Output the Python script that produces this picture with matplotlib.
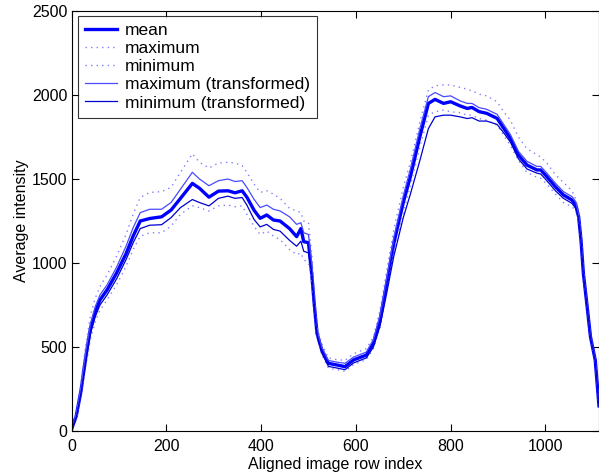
import matplotlib
matplotlib.use("Agg")
import matplotlib.pyplot as plt

plt.rcParams["font.family"] = ["Liberation Sans", "DejaVu Sans"]

# row index grid shared by all curves
rows = [0, 10, 20, 30, 40, 50, 60, 75, 95, 115, 130, 145, 165, 190, 210, 230,
        255, 270, 290, 310, 330, 345, 360, 370, 385, 398, 412, 426, 440, 460,
        475, 484, 490, 500, 507, 512, 518, 528, 542, 560, 577, 595, 622, 637,
        651, 665, 680, 700, 715, 735, 753, 767, 785, 800, 820, 835, 845, 860,
        876, 898, 912, 926, 943, 961, 982, 990, 1003, 1021, 1038, 1056, 1064,
        1070, 1075, 1080, 1088, 1095, 1105, 1113]

mean_vals = [10, 90, 240, 440, 610, 710, 780, 840, 940, 1055, 1160, 1250, 1265,
             1275, 1315, 1385, 1474, 1445, 1392, 1428, 1430, 1418, 1430, 1392,
             1315, 1266, 1286, 1256, 1250, 1205, 1157, 1205, 1127, 1121, 930,
             760, 581, 482, 403, 393, 383, 423, 452, 522, 661, 879, 1117, 1360,
             1514, 1752, 1950, 1974, 1950, 1960, 1935, 1920, 1926, 1901, 1891,
             1861, 1802, 1742, 1643, 1583, 1554, 1554, 1514, 1454, 1405, 1375,
             1345, 1276, 1137, 939, 740, 561, 423, 150]

max_vals = [20, 120, 290, 510, 690, 790, 860, 930, 1040, 1170, 1290, 1390, 1420,
            1425, 1450, 1540, 1650, 1600, 1565, 1595, 1600, 1595, 1580, 1540,
            1470, 1420, 1430, 1410, 1385, 1325, 1310, 1300, 1250, 1240, 1050,
            830, 620, 520, 435, 425, 420, 460, 490, 560, 720, 950, 1200, 1450,
            1600, 1840, 2030, 2055, 2060, 2060, 2045, 2035, 2025, 2005, 1995,
            1960, 1900, 1850, 1750, 1680, 1645, 1630, 1595, 1525, 1480, 1430,
            1380, 1310, 1160, 955, 750, 570, 428, 155]

min_vals = [0, 70, 200, 380, 550, 650, 720, 780, 870, 980, 1080, 1160, 1180,
            1180, 1220, 1290, 1340, 1330, 1310, 1340, 1345, 1335, 1340, 1290,
            1220, 1170, 1190, 1160, 1140, 1080, 1050, 1060, 1020, 1000, 900,
            740, 555, 455, 375, 365, 355, 395, 425, 490, 615, 820, 1060, 1300,
            1460, 1690, 1880, 1900, 1910, 1900, 1895, 1880, 1880, 1860, 1850,
            1820, 1760, 1700, 1610, 1540, 1510, 1505, 1470, 1410, 1360, 1335,
            1310, 1250, 1120, 925, 730, 553, 418, 143]

max_tr_vals = [15, 100, 260, 470, 640, 740, 810, 870, 975, 1100, 1210, 1300,
               1320, 1320, 1360, 1440, 1540, 1500, 1460, 1490, 1500, 1485, 1490,
               1450, 1380, 1330, 1345, 1320, 1310, 1275, 1230, 1240, 1180, 1170,
               1000, 800, 600, 500, 420, 410, 403, 440, 470, 545, 690, 910, 1150,
               1400, 1560, 1800, 1990, 2015, 1990, 1995, 1965, 1950, 1950, 1925,
               1915, 1885, 1825, 1765, 1665, 1605, 1575, 1575, 1535, 1475, 1425,
               1395, 1365, 1290, 1145, 945, 745, 565, 425, 150]

min_tr_vals = [5, 80, 220, 410, 580, 680, 750, 810, 905, 1020, 1120, 1205, 1225,
               1228, 1270, 1330, 1378, 1360, 1340, 1385, 1398, 1385, 1390, 1345,
               1260, 1215, 1230, 1200, 1190, 1135, 1100, 1130, 1070, 1060, 940,
               760, 570, 465, 385, 375, 365, 405, 435, 500, 625, 820, 1040, 1270,
               1410, 1610, 1800, 1870, 1880, 1880, 1870, 1860, 1865, 1845, 1845,
               1825, 1775, 1720, 1620, 1560, 1535, 1530, 1490, 1430, 1385, 1355,
               1325, 1262, 1130, 932, 735, 557, 420, 145]


def main():
    fig = plt.figure(figsize=(5.99, 4.75), dpi=100)
    ax = fig.add_axes([0.1194, 0.0926, 0.8806, 0.8842])

    ax.plot(rows, mean_vals, color="#0000ff", lw=2.4, label="mean")
    ax.plot(rows, max_vals, color="#8080ff", lw=1.0, ls=(0, (1, 3)), label="maximum")
    ax.plot(rows, min_vals, color="#8080ff", lw=1.0, ls=(0, (1, 3)), label="minimum")
    ax.plot(rows, max_tr_vals, color="#4a4aff", lw=0.9, label="maximum (transformed)")
    ax.plot(rows, min_tr_vals, color="#0000d0", lw=0.9, label="minimum (transformed)")

    ax.set_xlim(0, 1113)
    ax.set_ylim(0, 2500)
    ax.set_xticks(range(0, 1001, 200))
    ax.set_yticks(range(0, 2501, 500))
    ax.tick_params(direction="in", top=True, right=True, length=5, width=0.8,
                   labelsize=11.5)
    ax.tick_params(axis="x", pad=6)
    ax.tick_params(axis="y", pad=3)
    for sp in ax.spines.values():
        sp.set_linewidth(0.8)
    ax.set_xlabel("Aligned image row index", fontsize=11.5, labelpad=2)
    ax.set_ylabel("Average intensity", fontsize=11.5, labelpad=2)

    leg = ax.legend(loc="upper left", bbox_to_anchor=(0.0129, 0.988),
                    borderaxespad=0, fontsize=12.5, frameon=True, fancybox=False,
                    handlelength=1.8, handletextpad=0.5, labelspacing=0.17,
                    borderpad=0.4)
    leg.get_frame().set_edgecolor("black")
    leg.get_frame().set_linewidth(0.8)

    fig.savefig("out.png", dpi=100)


if __name__ == "__main__":
    main()
